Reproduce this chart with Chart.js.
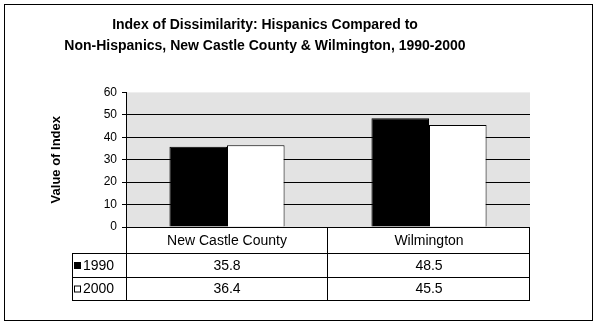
<!DOCTYPE html>
<html lang="en">
<head>
    <meta charset="UTF-8">
    <title>Index of Dissimilarity</title>
    <script src="https://cdn.jsdelivr.net/npm/chart.js"></script>
    <style>
        body { margin: 0; background: #fff; }
        canvas { display: block; }
    </style>
</head>
<body>
    <canvas id="grafico" width="599" height="326"></canvas>

<script>
    // dados
    const categorias = ['New Castle County', 'Wilmington'];
    const anos = ['1990', '2000'];
    const valores1990 = [35.8, 48.5];
    const valores2000 = [36.4, 45.5];
    const ticksY = [0, 10, 20, 30, 40, 50, 60];

    const fonte = "Arial, 'Liberation Sans', sans-serif";
    const corFundo = '#e3e3e3';

    // fundo cinza da area do grafico + moldura externa
    const fundo = {
        id: 'fundo',
        beforeDraw(chart) {
            const { ctx, chartArea: a } = chart;
            ctx.save();
            ctx.fillStyle = corFundo;
            ctx.fillRect(a.left, a.top, a.right - a.left, a.bottom - a.top);
            ctx.restore();
        },
        afterDraw(chart) {
            const ctx = chart.ctx;
            ctx.save();
            ctx.strokeStyle = '#000';
            ctx.lineWidth = 1;
            ctx.strokeRect(4.5, 4.5, 588, 316);
            ctx.restore();
        }
    };

    // tabela de dados embaixo do eixo
    const tabela = {
        id: 'tabela',
        afterDraw(chart) {
            const { ctx, chartArea: a } = chart;
            const x = chart.scales.x;
            const meia = (a.right - a.left) / categorias.length / 2;
            const esq = 72;
            const linhas = [a.bottom, a.bottom + 26, a.bottom + 50, a.bottom + 73];
            const series = [valores1990, valores2000];
            const cores = ['#000', '#fff'];

            ctx.save();
            ctx.strokeStyle = '#000';
            ctx.lineWidth = 1;
            ctx.beginPath();
            // horizontais
            ctx.moveTo(a.left, linhas[0] + 0.5); ctx.lineTo(a.right, linhas[0] + 0.5);
            for (let i = 1; i < linhas.length; i++) {
                ctx.moveTo(esq, linhas[i] + 0.5); ctx.lineTo(a.right, linhas[i] + 0.5);
            }
            // verticais
            ctx.moveTo(esq + 0.5, linhas[1]); ctx.lineTo(esq + 0.5, linhas[3] + 1);
            ctx.moveTo(a.left + 0.5, linhas[0]); ctx.lineTo(a.left + 0.5, linhas[3] + 1);
            categorias.forEach((c, i) => {
                const d = Math.round(x.getPixelForValue(i) + meia) - 0.5;
                ctx.moveTo(d, linhas[0]); ctx.lineTo(d, linhas[3] + 1);
            });
            ctx.stroke();

            ctx.fillStyle = '#000';
            ctx.font = '14px ' + fonte;
            ctx.textAlign = 'center';
            ctx.textBaseline = 'middle';
            categorias.forEach((c, i) => {
                ctx.fillText(c, x.getPixelForValue(i), (linhas[0] + linhas[1]) / 2 + 1);
            });

            series.forEach((vals, s) => {
                const yc = (linhas[s + 1] + linhas[s + 2]) / 2 + 1;
                // chave da legenda
                ctx.fillStyle = cores[s];
                ctx.fillRect(74, yc - 4, 7, 7);
                ctx.strokeRect(74.5, yc - 3.5, 6, 6);
                ctx.fillStyle = '#000';
                ctx.textAlign = 'left';
                ctx.fillText(anos[s], 83, yc);
                ctx.textAlign = 'center';
                vals.forEach((v, i) => {
                    ctx.fillText(v.toFixed(1), x.getPixelForValue(i), yc);
                });
            });
            ctx.restore();
        }
    };

    const ctx = document.getElementById('grafico').getContext('2d');
    const grafico = new Chart(ctx, {
        type: 'bar',
        data: {
            labels: categorias,
            datasets: [{
                label: anos[0],
                data: valores1990,
                backgroundColor: '#000',
                borderColor: '#000',
                borderWidth: 1
            }, {
                label: anos[1],
                data: valores2000,
                backgroundColor: '#fff',
                borderColor: '#000',
                borderWidth: 1
            }]
        },
        options: {
            responsive: false,
            animation: false,
            categoryPercentage: 0.57,
            barPercentage: 1,
            layout: {
                padding: { left: 0, right: 69, bottom: 99, top: 0 }
            },
            plugins: {
                legend: { display: false },
                tooltip: { enabled: false },
                title: {
                    display: true,
                    text: ['Index of Dissimilarity: Hispanics Compared to',
                           'Non-Hispanics, New Castle County & Wilmington, 1990-2000'],
                    color: '#000',
                    font: { family: fonte, size: 14, weight: 'bold', lineHeight: 1.55 },
                    padding: { top: 14, bottom: 35 }
                }
            },
            scales: {
                x: {
                    display: false
                },
                y: {
                    min: 0,
                    max: 60,
                    afterFit(scale) { scale.width = 126; },
                    afterBuildTicks(scale) { scale.ticks = ticksY.map(v => ({ value: v })); },
                    border: { display: true, color: '#000', width: 1 },
                    grid: {
                        color: c => (c.tick.value > 0 && c.tick.value < 60) ? '#000' : 'rgba(0,0,0,0)',
                        tickColor: '#000',
                        tickLength: 4,
                        lineWidth: 1
                    },
                    ticks: {
                        color: '#000',
                        padding: 5,
                        font: { family: fonte, size: 12 }
                    },
                    title: {
                        display: true,
                        text: 'Value of Index',
                        color: '#000',
                        font: { family: fonte, size: 13, weight: 'bold', lineHeight: 1.2 },
                        padding: { top: 49, bottom: 0 }
                    }
                }
            }
        },
        plugins: [fundo, tabela]
    });
</script>
</body>
</html>
